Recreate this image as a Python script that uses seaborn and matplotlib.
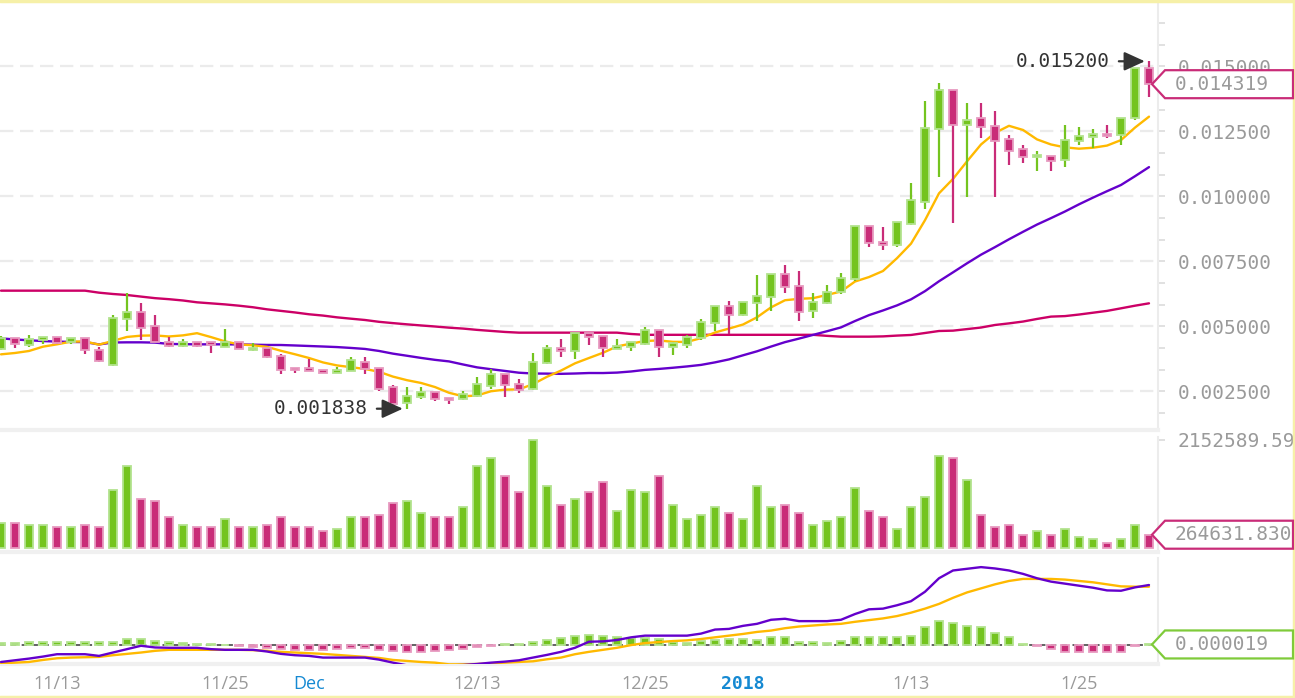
import numpy as np
import pandas as pd
import matplotlib
matplotlib.use("Agg")
import matplotlib.pyplot as plt
import matplotlib.transforms as mtransforms
from matplotlib.patches import Polygon
from matplotlib.lines import Line2D
from matplotlib.ticker import MultipleLocator
import seaborn as sns

# ---------------- data ----------------
start_date = "2017-11-09"
PRICE_UNIT = 1e-6   # OHLC / MA values below are in millionths
opens_u = [4135, 4545, 4288, 4481, 4609, 4391, 4545, 4096, 3519, 5288,
           5570, 5019, 4417, 4263, 4391, 4391, 4224, 4391, 4109, 4186,
           3878, 3391, 3391, 3327, 3224, 3301, 3647, 3391, 2660, 2045,
           2301, 2481, 2237, 2199, 2327, 2711, 3173, 2788, 2583, 3583,
           4160, 4071, 4763, 4635, 4135, 4224, 4327, 4865, 4199, 4289,
           4545, 5147, 5788, 5442, 5917, 6147, 7019, 6558, 5609, 5891,
           6327, 6814, 8865, 8263, 8134, 8942, 9801, 12583, 14096, 12750,
           13032, 12711, 12198, 11813, 11531, 11557, 11404, 12147, 12301, 12403,
           12365, 13006, 14929]
highs_u = [4650, 4545, 4673, 4609, 4609, 4545, 4545, 4199, 5442, 6275,
           5891, 5442, 4609, 4519, 4391, 4391, 4891, 4391, 4353, 4186,
           3930, 3391, 3737, 3327, 3429, 3814, 3814, 3391, 2737, 2686,
           2660, 2481, 2237, 2532, 3045, 3352, 3173, 2968, 3994, 4288,
           4506, 4763, 4763, 4635, 4506, 4391, 4968, 4865, 4417, 4673,
           5288, 5788, 5993, 5955, 6981, 7019, 7365, 7147, 6275, 6596,
           7045, 8865, 8865, 8839, 9019, 10532, 13685, 14378, 14096, 13608,
           13608, 13288, 12365, 11980, 11749, 11557, 12749, 12660, 12583, 12749,
           13006, 14929, 15200]
lows_u = [4100, 4160, 4224, 4314, 4340, 4314, 3930, 3622, 3480, 4840,
          4481, 4391, 4212, 4212, 4212, 3994, 4212, 4135, 4071, 3776,
          3160, 3224, 3288, 3224, 3224, 3301, 3173, 2532, 1990, 1838,
          2224, 2147, 2006, 2173, 2301, 2583, 2301, 2455, 2557, 3558,
          3840, 3763, 4289, 3840, 4135, 4071, 4289, 3840, 3904, 4160,
          4481, 4840, 4712, 5404, 5224, 5609, 6301, 5224, 5314, 5865,
          6237, 6763, 8070, 7942, 8070, 8903, 9506, 10762, 8993, 9993,
          12237, 9993, 11211, 11301, 10993, 10993, 11147, 11980, 11852, 12237,
          11980, 12942, 13839]
closes_u = [4545, 4314, 4519, 4609, 4353, 4545, 4096, 3673, 5340, 5570,
            4955, 4417, 4263, 4391, 4263, 4288, 4417, 4135, 4186, 3840,
            3327, 3327, 3288, 3224, 3327, 3711, 3352, 2583, 2019, 2327,
            2481, 2224, 2173, 2404, 2788, 3173, 2750, 2557, 3634, 4160,
            4071, 4737, 4609, 4160, 4263, 4391, 4865, 4224, 4353, 4583,
            5186, 5788, 5442, 5955, 6173, 7019, 6506, 5570, 5955, 6327,
            6865, 8865, 8224, 8134, 9019, 9865, 12647, 14096, 12750, 12942,
            12685, 12147, 11762, 11531, 11557, 11378, 12172, 12326, 12403, 12339,
            13006, 14929, 14319]
# moving averages: first points (window reaches before the visible range)
ma7_head_u = [3929, 3981, 4058, 4224, 4314, 4417]
ma25_head_u = [4545, 4500, 4470, 4440, 4420, 4405, 4400, 4310, 4385, 4391,
               4391, 4380, 4330, 4320, 4314, 4314, 4314, 4310, 4300, 4290,
               4288, 4270, 4250, 4230]
ma99_u = [6378, 6378, 6378, 6378, 6378, 6378, 6378, 6301, 6250, 6211,
          6150, 6090, 6050, 6000, 5930, 5890, 5850, 5800, 5740, 5660,
          5600, 5540, 5470, 5420, 5352, 5300, 5250, 5180, 5130, 5083,
          5040, 5000, 4955, 4920, 4870, 4830, 4790, 4763, 4763, 4763,
          4763, 4763, 4763, 4763, 4763, 4712, 4680, 4680, 4680, 4680,
          4680, 4680, 4680, 4680, 4680, 4680, 4680, 4680, 4680, 4640,
          4609, 4609, 4609, 4620, 4650, 4674, 4750, 4827, 4840, 4900,
          4960, 5058, 5120, 5190, 5290, 5380, 5400, 5460, 5530, 5600,
          5699, 5800, 5891]
VOL_UNIT = 1000.0
volumes_k = [503, 503, 463, 463, 422, 422, 463, 422, 1147, 1630,
             986, 946, 624, 463, 422, 422, 583, 422, 422, 463,
             624, 422, 422, 342, 382, 624, 624, 664, 905, 946,
             704, 624, 624, 825, 1630, 1790, 1428, 1106, 2152.58959, 1227,
             865, 986, 1106, 1308, 744, 1147, 1106, 1428, 865, 583,
             664, 825, 704, 583, 1227, 825, 865, 704, 463, 543,
             624, 1187, 744, 624, 382, 825, 1026, 1831, 1790, 1348,
             664, 422, 463, 262, 342, 262, 382, 221, 181, 101,
             181, 463, 264.63183]
MACD_UNIT = 1e-5
macd_dif_u = [-50, -45, -40, -34, -27, -27, -27, -32, -22, -12,
              -2, -7, -8, -8, -8, -12, -14, -14, -14, -19,
              -26, -30, -32, -37, -37, -37, -37, -43, -52, -60,
              -60, -60, -60, -59, -56, -52, -49, -45, -37, -29,
              -20, -8, 10, 11, 15, 23, 28, 28, 28, 28,
              34, 46, 48, 57, 63, 75, 78, 71, 71, 71,
              75, 92, 106, 108, 118, 130, 158, 198, 221, 226,
              231, 227, 221, 211, 198, 188, 182, 176, 170, 162,
              161, 171, 178]
macd_dea_u = [-54, -52, -50, -44, -39, -37, -36, -35, -30, -26,
              -22, -17, -14, -14, -14, -14, -14, -14, -15, -17,
              -20, -22, -24, -26, -29, -32, -35, -38, -44, -47,
              -50, -52, -57, -57, -56, -54, -52, -50, -48, -42,
              -37, -27, -20, -14, -8, 0, 6, 9, 12, 14,
              18, 23, 28, 33, 39, 43, 50, 55, 58, 61,
              63, 69, 74, 79, 86, 96, 108, 122, 140, 156,
              168, 180, 190, 196, 196, 196, 194, 190, 186, 180,
              174, 173, 173]
macd_hist_u = [6, 6, 10, 10, 10, 10, 10, 8, 10, 18,
               18, 12, 8, 6, 3, 2, 1, -2, -5, -8,
               -12, -14, -14, -14, -12, -10, -10, -14, -18, -20,
               -20, -18, -16, -12, -6, -2, 2, 4, 10, 14,
               22, 28, 30, 26, 24, 22, 20, 18, 10, 6,
               13, 16, 18, 18, 16, 23, 23, 10, 8, 6,
               12, 23, 23, 23, 23, 28, 53, 70, 66, 58,
               53, 35, 25, 4, -2, -12, -20, -20, -20, -20,
               -20, -2, 1.9]

price_ticks = [0.0025, 0.005, 0.0075, 0.010, 0.0125, 0.015]
price_tick_labels = ["0.002500", "0.005000", "0.007500", "0.010000", "0.012500", "0.015000"]
volume_tick_label = "2152589.59"
last_close_label = "0.014319"
last_volume_label = "264631.830"
last_macd_label = "0.000019"
date_ticks = ["2017-11-13", "2017-11-25", "2017-12-01", "2017-12-13",
              "2017-12-25", "2018-01-01", "2018-01-13", "2018-01-25"]
date_labels = ["11/13", "11/25", "Dec", "12/13", "12/25", "2018", "1/13", "1/25"]
period_labels = ["Dec", "2018"]

# ---------------- style ----------------
GREEN, GREEN_L = "#74c41f", "#b3e38f"
RED, RED_L = "#c92c78", "#e79ac0"
YELLOW, PURPLE, CRIMSON = "#ffb900", "#6400cc", "#cc0066"
TXT_GRAY, BLUE, DARK = "#9a9a9a", "#1589d2", "#333333"
MONO = "DejaVu Sans Mono"

sns.set_theme(style="white")
plt.rcParams["font.family"] = ["DejaVu Sans"]

df = pd.DataFrame({
    "date": pd.date_range(start_date, periods=len(closes_u)),
    "open": np.array(opens_u) * PRICE_UNIT,
    "high": np.array(highs_u) * PRICE_UNIT,
    "low": np.array(lows_u) * PRICE_UNIT,
    "close": np.array(closes_u) * PRICE_UNIT,
    "volume": np.array(volumes_k) * VOL_UNIT,
    "ma99": np.array(ma99_u) * PRICE_UNIT,
    "dif": np.array(macd_dif_u) * MACD_UNIT,
    "dea": np.array(macd_dea_u) * MACD_UNIT,
    "hist": np.array(macd_hist_u) * MACD_UNIT,
})
ma7 = df["close"].rolling(7).mean()
ma7.iloc[:len(ma7_head_u)] = np.array(ma7_head_u) * PRICE_UNIT
ma25 = df["close"].rolling(25).mean()
ma25.iloc[:len(ma25_head_u)] = np.array(ma25_head_u) * PRICE_UNIT
df["ma7"], df["ma25"] = ma7, ma25
up = df["close"] >= df["open"]
fill = np.where(up, GREEN, RED)
edge = np.where(up, GREEN_L, RED_L)

W, H = 1295, 698
fig = plt.figure(figsize=(W / 100, H / 100), dpi=100)
fig.patch.set_facecolor("white")


def rect(top, bottom, right=1158):
    return [0, 1 - bottom / H, right / W, (bottom - top) / H]


ax_p = fig.add_axes(rect(3, 430))
ax_v = fig.add_axes(rect(437, 552), sharex=ax_p)
ax_m = fig.add_axes(rect(558, 664), sharex=ax_p)

# ---------------- price panel ----------------
for col, c in (("ma99", CRIMSON), ("ma25", PURPLE), ("ma7", YELLOW)):
    sns.lineplot(data=df, x="date", y=col, ax=ax_p, color=c, lw=1.7, zorder=2, legend=False)
ax_p.vlines(df["date"], df["low"], df["high"], colors=fill, lw=1.6, zorder=3)
body_lo = np.minimum(df["open"], df["close"])
body_h = np.maximum((df["close"] - df["open"]).abs(), 0.00005)
ax_p.bar(df["date"], body_h, bottom=body_lo, width=0.55, color=fill,
         edgecolor=edge, linewidth=1.3, zorder=4)

d0 = df["date"].iloc[0]
ax_p.set_xlim(d0 - pd.Timedelta(days=1 / 14), d0 + pd.Timedelta(days=1157 / 14))
ax_p.set_ylim(0.001019, 0.017442)
ax_p.yaxis.tick_right()
ax_p.set_yticks(price_ticks)
ax_p.set_yticklabels(price_tick_labels, fontfamily=MONO)
ax_p.yaxis.set_minor_locator(MultipleLocator(0.0025 / 3))
ax_p.tick_params(axis="y", which="both", right=True, left=False, length=5,
                 color="#dcdcdc", width=1.2)
ax_p.tick_params(axis="y", which="major", pad=9, labelsize=14, labelcolor=TXT_GRAY)
ax_p.grid(axis="y", which="major", color="#ebebeb", lw=1.6, ls=(0, (6, 3)))
ax_p.grid(axis="x", visible=False)

# extreme annotations
hi = df["high"].idxmax()
lo = df["low"].idxmin()
for idx, val in ((hi, df["high"][hi]), (lo, df["low"][lo])):
    ax_p.annotate(f"{val:.6f}", xy=(df["date"][idx], val), xytext=(-39, 0),
                  textcoords="offset pixels", ha="right", va="center",
                  fontsize=14, fontfamily=MONO, color=DARK, zorder=6,
                  arrowprops=dict(arrowstyle="-|>,head_length=0.7,head_width=0.32",
                                  color=DARK, lw=1.6, shrinkA=4, shrinkB=3,
                                  mutation_scale=18))

# ---------------- volume panel ----------------
ax_v.bar(df["date"], df["volume"], width=0.55, color=fill, edgecolor=edge,
         linewidth=1.3, zorder=3)
ax_v.set_ylim(-80000, 2212000)
ax_v.yaxis.tick_right()
ax_v.set_yticks([df["volume"].max()])
ax_v.set_yticklabels([volume_tick_label], fontfamily=MONO)
ax_v.tick_params(axis="y", right=True, left=False, length=5, color="#dcdcdc",
                 pad=9, labelsize=14, labelcolor=TXT_GRAY)

# ---------------- MACD panel ----------------
hup = df["hist"] >= 0
ax_m.axhline(0, color="#555555", lw=1.3, ls=(0, (3, 3)), zorder=1)
ax_m.bar(df["date"], df["hist"], width=0.55, color=np.where(hup, GREEN, RED),
         edgecolor=np.where(hup, GREEN_L, RED_L), linewidth=1.3, zorder=2)
sns.lineplot(data=df, x="date", y="dea", ax=ax_m, color=YELLOW, lw=1.7, zorder=3, legend=False)
sns.lineplot(data=df, x="date", y="dif", ax=ax_m, color=PURPLE, lw=1.7, zorder=4, legend=False)
ax_m.set_ylim(-56e-5, 258e-5)
ax_m.set_yticks([])

ax_m.set_xticks(pd.to_datetime(date_ticks))
ax_m.set_xticklabels(date_labels)
ax_m.tick_params(axis="x", length=0, pad=8, labelsize=13, labelcolor=TXT_GRAY)
for lab in ax_m.get_xticklabels():
    lab.set_fontfamily("Open Sans")
    if lab.get_text() in period_labels:
        lab.set_color(BLUE)
        if lab.get_text().isdigit():
            lab.set_fontfamily(MONO)
            lab.set_fontweight("bold")

for ax in (ax_p, ax_v, ax_m):
    ax.set_xlabel("")
    ax.set_ylabel("")
    ax.set_facecolor("white")
    for s in ("left", "top"):
        ax.spines[s].set_visible(False)
    ax.spines["right"].set_color("#ececec")
    ax.spines["right"].set_linewidth(1.5)
    ax.spines["bottom"].set_color("#f0f0f0")
    ax.spines["bottom"].set_linewidth(3)
for ax in (ax_p, ax_v):
    ax.tick_params(axis="x", bottom=False, labelbottom=False)


# ---------------- value tags on the right ----------------
def add_tag(ax, value, text, color):
    trans = mtransforms.blended_transform_factory(ax.transAxes, ax.transData)
    px, py = trans.transform((1.0, value))
    tip = px - 6
    box_l, box_r, half = px + 7, W - 2, 14
    verts = [(tip, py), (box_l, py + half), (box_r, py + half),
             (box_r, py - half), (box_l, py - half)]
    inv = fig.transFigure.inverted()
    fverts = inv.transform(verts)
    fig.add_artist(Polygon(fverts, closed=True, facecolor="white", edgecolor=color,
                           lw=1.6, transform=fig.transFigure, zorder=10))
    tx, ty = inv.transform((px + 17, py))
    fig.text(tx, ty, text, ha="left", va="center", fontsize=14, fontfamily=MONO,
             color=TXT_GRAY, zorder=11)


add_tag(ax_p, df["close"].iloc[-1], last_close_label, RED)
add_tag(ax_v, df["volume"].iloc[-1], last_volume_label, RED)
add_tag(ax_m, df["hist"].iloc[-1], last_macd_label, "#7fcb3a")

# pale yellow frame (top, right, bottom)
for xs, ys in (([0, 1], [1 - 1 / H, 1 - 1 / H]), ([1 - 1 / W, 1 - 1 / W], [0, 1]),
               ([0, 1], [1.5 / H, 1.5 / H])):
    fig.add_artist(Line2D(xs, ys, transform=fig.transFigure, color="#f6f0a8", lw=2.5))

fig.savefig("out.png", dpi=100)
